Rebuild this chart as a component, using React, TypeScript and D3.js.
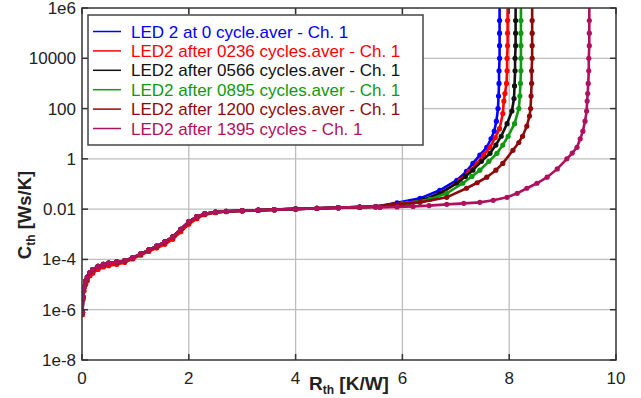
import { useEffect, useRef } from 'react';
import * as d3 from 'd3';

type Pt = [number, number]; // [Rth, log10(Cth)]

// shared low part of the structure function
const baseCurve: Pt[] = [
    [0.01, -6.1], [0.02, -5.5], [0.04, -5.1], [0.07, -4.85], [0.1, -4.7],
    [0.15, -4.52], [0.2, -4.4], [0.3, -4.28], [0.4, -4.2], [0.5, -4.15],
    [0.65, -4.1], [0.8, -4.05], [0.95, -3.93], [1.1, -3.78], [1.25, -3.62],
    [1.4, -3.47], [1.55, -3.3], [1.7, -3.1], [1.85, -2.8], [2.0, -2.5],
    [2.15, -2.3], [2.3, -2.18], [2.5, -2.12], [2.7, -2.09], [3.0, -2.06],
    [3.3, -2.04], [3.6, -2.02], [4.0, -1.99], [4.4, -1.97], [4.8, -1.94],
    [5.2, -1.92], [5.5, -1.9]
];
const redBase: Pt[] = [
    [0.01, -6.2], [0.02, -5.6], [0.04, -5.25], [0.07, -5.0], [0.1, -4.85],
    [0.15, -4.65], [0.2, -4.55], [0.3, -4.4], [0.4, -4.3], [0.5, -4.25],
    [0.65, -4.2], [0.8, -4.12], [0.95, -3.98], [1.1, -3.83], [1.25, -3.68],
    [1.4, -3.55], [1.55, -3.4], [1.7, -3.2], [1.85, -2.9], [2.0, -2.6],
    [2.15, -2.38], [2.3, -2.22], [2.5, -2.14], [2.7, -2.1], [3.0, -2.07],
    [3.3, -2.05], [3.6, -2.03], [4.0, -2.0], [4.4, -1.97], [4.8, -1.95],
    [5.2, -1.92], [5.5, -1.9]
];

const blueTail: Pt[] = [
    [5.9, -1.75], [6.33, -1.57], [6.7, -1.25], [7.02, -0.85], [7.2, -0.5],
    [7.32, -0.18], [7.45, 0.15], [7.58, 0.46], [7.66, 0.8], [7.72, 1.1],
    [7.76, 1.5], [7.79, 2.0], [7.8, 2.5], [7.81, 3.0], [7.81, 3.5],
    [7.82, 4.0], [7.82, 4.5], [7.82, 5.0], [7.82, 5.5], [7.82, 6.2]
];
const redTail: Pt[] = [
    [6.0, -1.78], [6.39, -1.65], [6.76, -1.33], [7.08, -0.85], [7.25, -0.5],
    [7.4, -0.18], [7.52, 0.15], [7.64, 0.46], [7.74, 0.85], [7.82, 1.2],
    [7.88, 1.8], [7.9, 2.3], [7.92, 2.6], [7.95, 3.0], [7.96, 3.5],
    [7.96, 4.0], [7.97, 4.5], [7.97, 5.0], [7.97, 5.5], [7.97, 6.2]
];
const blackTail: Pt[] = [
    [6.1, -1.8], [6.4, -1.62], [6.7, -1.37], [7.02, -0.97], [7.18, -0.7],
    [7.32, -0.45], [7.48, -0.1], [7.64, 0.22], [7.75, 0.55], [7.85, 0.9],
    [7.96, 1.4], [8.05, 1.9], [8.09, 2.4], [8.1, 2.9], [8.11, 3.5],
    [8.11, 4.0], [8.12, 4.5], [8.12, 5.0], [8.12, 5.5], [8.12, 6.2]
];
const greenTail: Pt[] = [
    [6.09, -1.77], [6.52, -1.61], [6.83, -1.37], [7.13, -0.97], [7.3, -0.7],
    [7.45, -0.45], [7.62, -0.1], [7.77, 0.22], [7.88, 0.55], [7.98, 0.9],
    [8.1, 1.4], [8.18, 2.0], [8.2, 2.5], [8.21, 3.0], [8.22, 3.5],
    [8.22, 4.0], [8.22, 4.5], [8.22, 5.0], [8.22, 5.5], [8.22, 6.2]
];
const darkRedTail: Pt[] = [
    [5.83, -1.81], [6.33, -1.73], [6.83, -1.53], [7.2, -1.17], [7.4, -0.95],
    [7.58, -0.73], [7.75, -0.45], [7.88, -0.18], [8.07, 0.34], [8.18, 0.65],
    [8.25, 0.9], [8.33, 1.3], [8.38, 1.7], [8.4, 2.0], [8.41, 2.5],
    [8.42, 3.0], [8.42, 3.5], [8.43, 4.0], [8.43, 4.5], [8.43, 5.0],
    [8.43, 5.5], [8.43, 6.2]
];
const magentaTail: Pt[] = [
    [5.58, -1.93], [5.9, -1.91], [6.2, -1.89], [6.5, -1.86], [6.83, -1.81],
    [7.15, -1.77], [7.45, -1.73], [7.7, -1.65], [7.96, -1.53], [8.15, -1.37],
    [8.33, -1.17], [8.52, -0.97], [8.71, -0.73], [8.9, -0.4], [9.08, 0.0],
    [9.18, 0.23], [9.27, 0.46], [9.33, 0.8], [9.38, 1.1], [9.42, 1.5],
    [9.45, 1.9], [9.46, 2.3], [9.47, 2.6], [9.48, 3.0], [9.49, 3.5],
    [9.49, 4.0], [9.5, 4.5], [9.5, 5.0], [9.5, 5.5], [9.5, 6.2]
];

const seriesNames = [
    "LED 2 at 0 cycle.aver - Ch. 1",
    "LED2 after 0236 cycles.aver - Ch. 1",
    "LED2 after 0566 cycles.aver - Ch. 1",
    "LED2 after 0895 cycles.aver - Ch. 1",
    "LED2 after 1200 cycles.aver - Ch. 1",
    "LED2 after 1395 cycles - Ch. 1"
];
const seriesColors = ["#0000ff", "#ff0000", "#111111", "#109a10", "#8e0a0a", "#b0105e"];
const seriesData: Pt[][] = [
    baseCurve.concat(blueTail),
    redBase.concat(redTail),
    baseCurve.concat(blackTail),
    baseCurve.concat(greenTail),
    baseCurve.concat(darkRedTail),
    baseCurve.concat(magentaTail)
];

const xTicks = [0, 2, 4, 6, 8, 10];
const yTickExps = [-8, -6, -4, -2, 0, 2, 4, 6];
const yTickLabels = ["1e-8", "1e-6", "1e-4", "0.01", "1", "100", "10000", "1e6"];

export default function App() {
    const svgRef = useRef<SVGSVGElement>(null);
    const width = 641;
    const height = 398;

    useEffect(() => {
        const svg = d3.select(svgRef.current);
        svg.selectAll("*").remove();

        const left = 82, right = 616, top = 8, bottom = 360;
        const font = "Liberation Sans, Arial, sans-serif";

        const x = d3.scaleLinear().domain([0, 10]).range([left, right]);
        const y = d3.scaleLinear().domain([-8, 6]).range([bottom, top]);

        svg.append("rect").attr("width", width).attr("height", height).attr("fill", "white");

        // grid
        svg.append("g").selectAll("line")
            .data(xTicks.slice(1, -1))
            .enter().append("line")
            .attr("x1", d => x(d)).attr("x2", d => x(d))
            .attr("y1", top).attr("y2", bottom)
            .attr("stroke", "#bdbdbd").attr("stroke-width", 1.3);
        svg.append("g").selectAll("line")
            .data(yTickExps.slice(1, -1))
            .enter().append("line")
            .attr("x1", left).attr("x2", right)
            .attr("y1", d => y(d)).attr("y2", d => y(d))
            .attr("stroke", "#bdbdbd").attr("stroke-width", 1.3);

        // curves
        svg.append("defs").append("clipPath").attr("id", "plotclip")
            .append("rect").attr("x", left).attr("y", top)
            .attr("width", right - left).attr("height", bottom - top);

        const plot = svg.append("g").attr("clip-path", "url(#plotclip)");
        const line = d3.line<Pt>().x(d => x(d[0])).y(d => y(d[1]));

        seriesData.forEach((pts, i) => {
            plot.append("path")
                .datum(pts)
                .attr("fill", "none")
                .attr("stroke", seriesColors[i])
                .attr("stroke-width", 2.6)
                .attr("d", line);
            plot.append("g").selectAll("circle")
                .data(pts)
                .enter().append("circle")
                .attr("cx", d => x(d[0]))
                .attr("cy", d => y(d[1]))
                .attr("r", 2.6)
                .attr("fill", seriesColors[i]);
        });

        // frame + inward ticks
        svg.append("rect")
            .attr("x", left).attr("y", top)
            .attr("width", right - left).attr("height", bottom - top)
            .attr("fill", "none").attr("stroke", "#333").attr("stroke-width", 1.5);

        const ticks = svg.append("g").attr("stroke", "#333").attr("stroke-width", 1.5);
        xTicks.forEach(t => {
            ticks.append("line").attr("x1", x(t)).attr("x2", x(t)).attr("y1", bottom).attr("y2", bottom - 6);
            ticks.append("line").attr("x1", x(t)).attr("x2", x(t)).attr("y1", top).attr("y2", top + 6);
        });
        yTickExps.forEach(t => {
            ticks.append("line").attr("x1", left).attr("x2", left + 6).attr("y1", y(t)).attr("y2", y(t));
            ticks.append("line").attr("x1", right).attr("x2", right - 6).attr("y1", y(t)).attr("y2", y(t));
        });

        // tick labels
        svg.append("g").selectAll("text")
            .data(xTicks)
            .enter().append("text")
            .attr("x", d => x(d))
            .attr("y", 384)
            .attr("text-anchor", "middle")
            .style("font-family", font)
            .style("font-size", "17px")
            .style("fill", "#222")
            .text(d => String(d));
        svg.append("g").selectAll("text")
            .data(yTickExps)
            .enter().append("text")
            .attr("x", 76)
            .attr("y", d => y(d) + 6)
            .attr("text-anchor", "end")
            .style("font-family", font)
            .style("font-size", "17px")
            .style("fill", "#222")
            .text((d, i) => yTickLabels[i]);

        // axis titles
        const xt = svg.append("text")
            .attr("x", 309).attr("y", 390)
            .style("font-family", font)
            .style("font-size", "19px")
            .style("font-weight", "bold")
            .style("fill", "#222");
        xt.append("tspan").text("R");
        xt.append("tspan").attr("dy", 4).style("font-size", "12px").text("th");
        xt.append("tspan").attr("dy", -4).text(" [K/W]");

        const yt = svg.append("text")
            .attr("transform", "translate(31,215) rotate(-90)")
            .attr("text-anchor", "middle")
            .style("font-family", font)
            .style("font-size", "18.5px")
            .style("font-weight", "bold")
            .style("fill", "#222");
        yt.append("tspan").text("C");
        yt.append("tspan").attr("dy", 4).style("font-size", "12px").text("th");
        yt.append("tspan").attr("dy", -4).text(" [Ws/K]");

        // legend
        const lg = svg.append("g");
        lg.append("rect")
            .attr("x", 88).attr("y", 15)
            .attr("width", 335).attr("height", 130)
            .attr("fill", "white").attr("stroke", "#444").attr("stroke-width", 1.5);
        seriesNames.forEach((name, i) => {
            const cy = 31.5 + i * 19.4;
            lg.append("line")
                .attr("x1", 93).attr("x2", 121)
                .attr("y1", cy).attr("y2", cy)
                .attr("stroke", seriesColors[i]).attr("stroke-width", 1.5);
            lg.append("text")
                .attr("x", 131).attr("y", cy + 6)
                .style("font-family", font)
                .style("font-size", "17px")
                .style("fill", seriesColors[i])
                .text(name);
        });
    }, []);

    return (
        <svg ref={svgRef} width={width} height={height}
            style={{ position: 'absolute', left: 0, top: 0 }}></svg>
    );
}
